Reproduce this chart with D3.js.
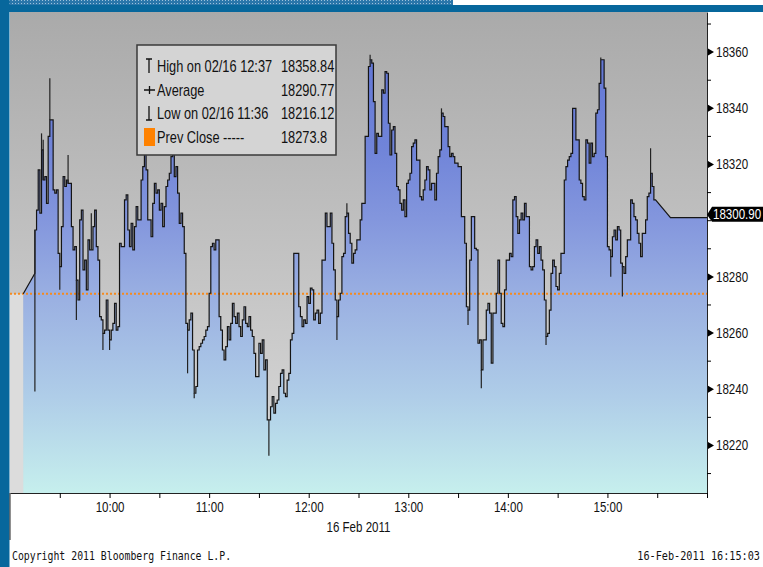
<!DOCTYPE html>
<html>
<head>
<meta charset="utf-8">
<script src="https://cdn.jsdelivr.net/npm/d3@7"></script>
<style>
  html, body { margin: 0; padding: 0; background: #fff; }
  svg { display: block; }
  svg text { font-family: "Liberation Sans", Arial, sans-serif; font-size: 15px; fill: #111; }
  svg text.mono { font-family: "DejaVu Sans Mono", "Liberation Mono", monospace; font-size: 12px; }
</style>
</head>
<body>
<div id="chart"></div>
<script>
// intraday chart, 16 Feb 2011

const W = 763, H = 567;
const plot = {left: 10, right: 707, top: 12, bottom: 493};

const prevClose = 18273.8;
const lastPrice = 18300.90;

// pre-open link, then one close per minute from startTime
const openTimes = ["09:08", "09:15"];
const openPrices = [18273.8, 18281.1];
const startTime = "09:15";
const closes = [
  18296.5, 18303.6, 18317.9, 18302.5, 18325.0, 18314.3, 18315.5, 18306.0, 18329.8, 18335.7, // 09:15
  18335.7, 18310.8, 18309.6, 18310.8, 18288.2, 18283.5, 18297.7, 18315.5, 18312.0, 18314.3, // 09:25
  18313.1, 18313.1, 18297.7, 18289.4, 18290.6, 18278.7, 18271.6, 18300.1, 18303.6, 18282.3, // 09:35
  18285.8, 18275.2, 18293.0, 18289.4, 18289.4, 18297.7, 18303.6, 18290.6, 18285.8, 18265.7, // 09:45
  18264.5, 18259.7, 18260.9, 18271.6, 18260.9, 18257.4, 18260.9, 18263.3, 18270.4, 18260.9, // 09:55
  18262.1, 18291.8, 18290.6, 18290.6, 18307.2, 18309.0, 18296.5, 18290.6, 18298.9, 18289.4, // 10:05
  18297.7, 18304.8, 18300.1, 18300.1, 18314.3, 18319.1, 18323.8, 18317.9, 18300.1, 18300.1, // 10:15
  18294.1, 18306.0, 18313.1, 18309.6, 18310.8, 18303.6, 18306.0, 18297.7, 18304.8, 18312.0, // 10:25
  18314.3, 18316.7, 18322.6, 18325.0, 18315.5, 18319.1, 18309.6, 18298.9, 18302.5, 18297.7, // 10:35
  18288.2, 18263.3, 18260.9, 18264.5, 18266.9, 18253.8, 18238.4, 18240.8, 18253.8, 18255.0, // 10:45
  18256.2, 18257.4, 18258.6, 18260.9, 18262.1, 18274.0, 18290.6, 18291.8, 18289.4, 18293.0, // 10:55
  18293.0, 18265.7, 18260.9, 18253.8, 18250.3, 18255.0, 18262.1, 18257.4, 18263.3, 18270.4, // 11:05
  18265.7, 18263.3, 18266.9, 18262.1, 18258.6, 18264.5, 18269.2, 18263.3, 18262.1, 18265.7, // 11:15
  18260.9, 18258.6, 18252.6, 18244.3, 18244.3, 18256.2, 18252.6, 18257.4, 18246.7, 18250.3, // 11:25
  18228.9, 18228.9, 18233.6, 18237.2, 18231.3, 18234.8, 18236.0, 18240.8, 18245.5, 18246.7, // 11:35
  18238.4, 18237.2, 18243.1, 18245.5, 18257.4, 18259.7, 18288.2, 18288.2, 18288.2, 18269.2, // 11:45
  18265.7, 18262.1, 18264.5, 18263.3, 18272.8, 18270.4, 18275.8, 18275.2, 18264.5, 18266.9, // 11:55
  18268.0, 18263.3, 18266.9, 18285.8, 18285.8, 18302.5, 18297.7, 18297.7, 18302.5, 18291.8, // 12:05
  18282.3, 18271.6, 18265.7, 18271.6, 18274.0, 18287.0, 18288.2, 18301.3, 18302.5, 18295.3, // 12:15
  18291.8, 18284.7, 18288.2, 18289.4, 18293.0, 18293.0, 18300.1, 18306.0, 18306.0, 18329.8, // 12:25
  18329.8, 18354.7, 18357.1, 18355.9, 18342.2, 18323.8, 18330.9, 18329.8, 18329.8, 18346.4, // 12:35
  18345.2, 18352.9, 18352.3, 18334.5, 18323.2, 18332.1, 18333.3, 18323.8, 18312.0, 18310.8, // 12:45
  18306.0, 18303.6, 18307.2, 18301.3, 18313.1, 18314.3, 18316.7, 18326.2, 18327.4, 18328.6, // 12:55
  18321.4, 18321.4, 18308.4, 18307.2, 18310.8, 18314.3, 18319.1, 18317.9, 18310.8, 18313.1, // 13:05
  18313.1, 18307.2, 18316.7, 18322.6, 18325.0, 18338.1, 18336.9, 18333.3, 18333.3, 18326.2, // 13:15
  18322.6, 18323.8, 18322.6, 18320.3, 18320.3, 18319.1, 18319.1, 18301.3, 18301.3, 18291.8, // 13:25
  18269.2, 18268.0, 18285.8, 18301.3, 18301.3, 18290.0, 18289.4, 18256.2, 18257.4, 18246.7, // 13:35
  18257.4, 18257.4, 18268.0, 18270.4, 18266.9, 18249.1, 18266.9, 18266.9, 18274.0, 18285.8, // 13:45
  18274.0, 18263.3, 18262.1, 18275.2, 18285.8, 18285.8, 18288.2, 18287.0, 18307.2, 18308.4, // 13:55
  18301.3, 18295.3, 18300.1, 18302.5, 18300.1, 18306.0, 18301.3, 18301.3, 18283.5, 18282.3, // 14:05
  18283.5, 18290.6, 18293.0, 18288.2, 18290.6, 18285.8, 18282.3, 18271.6, 18258.6, 18259.7, // 14:15
  18268.0, 18281.1, 18285.8, 18283.5, 18276.4, 18275.2, 18281.1, 18288.2, 18288.2, 18314.3, // 14:25
  18319.1, 18321.4, 18322.6, 18323.8, 18339.8, 18339.8, 18328.6, 18328.6, 18314.3, 18313.1, // 14:35
  18308.4, 18307.2, 18328.6, 18327.4, 18320.3, 18327.4, 18322.6, 18323.8, 18338.1, 18339.3, // 14:45
  18348.7, 18357.1, 18357.1, 18347.0, 18322.6, 18290.6, 18289.4, 18287.0, 18294.1, 18296.5, // 14:55
  18293.0, 18297.7, 18296.5, 18284.7, 18283.5, 18281.1, 18287.0, 18293.0, 18293.0, 18307.2, // 15:05
  18306.0, 18301.3, 18300.1, 18295.3, 18291.8, 18287.0, 18295.3, 18295.3, 18300.1, 18308.4, // 15:15
  18309.6, 18316.7, 18312.0, 18307.2                                                        // 15:25
];
// after the last bar: link to the last price, then held flat
const tailTimes = ["15:29", "15:38", "16:00"];
const tailPrices = [18307.2, 18300.9, 18300.9];

// single-minute highs / lows poking out of the close line
const spikeTimes = ["09:15", "09:19", "09:20", "09:24", "09:30", "09:35", "09:40", "09:49", "09:56", "10:00",
  "10:47", "10:51", "11:36", "12:17", "12:23", "12:37", "13:20", "13:36", "13:44", "14:23", "14:56", "15:02", "15:09", "15:26"];
const spikePrices = [18239.0, 18330.9, 18328.6, 18350.5, 18275.2, 18323.2, 18264.5, 18302.5, 18253.8, 18253.8,
  18245.5, 18236.6, 18216.12, 18257.4, 18306.0, 18358.84, 18339.8, 18262.7, 18240.2, 18255.6, 18357.9, 18279.9, 18272.8, 18325.6];

const yTicks = [18220, 18240, 18260, 18280, 18320, 18340, 18360];
const yMinor = [18210, 18230, 18250, 18270, 18290, 18300, 18310, 18330, 18350, 18370];
const xTicks = ["09:30", "10:00", "10:30", "11:00", "11:30", "12:00", "12:30", "13:00", "13:30", "14:00", "14:30", "15:00", "15:30", "16:00"];
const xLabels = ["10:00", "11:00", "12:00", "13:00", "14:00", "15:00"];

const legendLabels = ["High on 02/16 12:37", "Average", "Low on 02/16 11:36", "Prev Close -----"];
const legendValues = ["18358.84", "18290.77", "18216.12", "18273.8"];

const dateLabel = "16 Feb 2011";
const copyright = "Copyright 2011 Bloomberg Finance L.P.";
const stamp = "16-Feb-2011 16:15:03";

// ---------------------------------------------------------------
const parse = s => { let p = s.split(":").map(Number); return new Date(2011, 1, 16, p[0], p[1]); };

// no narrow font installed: squeeze the text horizontally
function narrow(sel, k) {
  sel.each(function () {
    let t = d3.select(this);
    let x0 = +t.attr("x") || 0;
    t.attr("x", x0 / k).attr("transform", "scale(" + k + ",1)");
  });
}

const x = d3.scaleTime().domain([parse("09:00"), parse("16:00")]).range([plot.left, plot.right]);
const y = d3.scaleLinear().domain([18202.9, 18374.1]).range([plot.bottom, plot.top]);

const svg = d3.select("#chart").append("svg").attr("width", W).attr("height", H);
const defs = svg.append("defs");

let bg = defs.append("linearGradient").attr("id", "bgGrad").attr("gradientUnits", "userSpaceOnUse")
  .attr("x1", 0).attr("x2", 0).attr("y1", plot.top).attr("y2", plot.bottom);
bg.append("stop").attr("offset", 0).attr("stop-color", "#aaaaaa");
bg.append("stop").attr("offset", 1).attr("stop-color", "#dadada");

let ag = defs.append("linearGradient").attr("id", "areaGrad").attr("gradientUnits", "userSpaceOnUse")
  .attr("x1", 0).attr("x2", 0).attr("y1", plot.top).attr("y2", plot.bottom);
[[0, "#5c70d4"], [0.29, "#7185d9"], [0.43, "#8396dd"], [0.6, "#9bb1e2"], [0.8, "#afcde8"], [1, "#c6efed"]]
  .forEach(s => ag.append("stop").attr("offset", s[0]).attr("stop-color", s[1]));

let pat = defs.append("pattern").attr("id", "topPat").attr("width", 3).attr("height", 3).attr("patternUnits", "userSpaceOnUse");
pat.append("rect").attr("width", 3).attr("height", 3).attr("fill", "#2a76aa");
pat.append("rect").attr("width", 1).attr("height", 1).attr("fill", "#9cc2dc");

defs.append("clipPath").attr("id", "plotClip").append("rect")
  .attr("x", plot.left).attr("y", plot.top).attr("width", plot.right - plot.left).attr("height", plot.bottom - plot.top);

// frame
svg.append("rect").attr("x", 0).attr("y", 0).attr("width", 453).attr("height", 5).attr("fill", "url(#topPat)");
svg.append("rect").attr("x", 0).attr("y", 5).attr("width", W).attr("height", 7).attr("fill", "#07679c");
svg.append("rect").attr("x", 0).attr("y", 0).attr("width", 9.5).attr("height", H).attr("fill", "#07679c");

svg.append("rect").attr("x", plot.left).attr("y", plot.top)
  .attr("width", plot.right - plot.left).attr("height", plot.bottom - plot.top).attr("fill", "url(#bgGrad)");

// pre-open strip
svg.append("rect").attr("x", x(parse("09:00"))).attr("y", y(prevClose))
  .attr("width", x(parse(openTimes[0])) - x(parse("09:00"))).attr("height", plot.bottom - y(prevClose))
  .attr("fill", "#dcdcdc");

// build the path points: linear link, minute steps, linear tail
let pts = openTimes.map((t, i) => [parse(t), openPrices[i]]);
let t0 = parse(startTime);
closes.forEach((v, i) => {
  pts.push([d3.timeMinute.offset(t0, i), v]);
  pts.push([d3.timeMinute.offset(t0, i + 1), v]);
});
tailTimes.forEach((t, i) => pts.push([parse(t), tailPrices[i]]));

const plotG = svg.append("g").attr("clip-path", "url(#plotClip)");

plotG.append("path").datum(pts).attr("fill", "url(#areaGrad)")
  .attr("d", d3.area().x(d => x(d[0])).y0(plot.bottom).y1(d => y(d[1])));

plotG.append("line").attr("x1", plot.left).attr("x2", plot.right)
  .attr("y1", y(prevClose)).attr("y2", y(prevClose))
  .attr("stroke", "#f58a1f").attr("stroke-width", 2).attr("stroke-dasharray", "2,2");

plotG.append("path").datum(pts).attr("fill", "none").attr("stroke", "#151515").attr("stroke-width", 1.2)
  .attr("d", d3.line().x(d => x(d[0])).y(d => y(d[1])));

// spikes drawn from that minute's close
plotG.selectAll(".spike").data(spikeTimes).enter().append("line").attr("class", "spike")
  .attr("x1", d => x(parse(d))).attr("x2", d => x(parse(d)))
  .attr("y1", d => y(closes[d3.timeMinute.count(t0, parse(d))]))
  .attr("y2", (d, i) => y(spikePrices[i]))
  .attr("stroke", "#222").attr("stroke-width", 1.2);

// right axis
let gMinor = svg.append("g").attr("transform", "translate(" + plot.right + ",0)")
  .call(d3.axisRight(y).tickValues(yMinor).tickSize(4).tickSizeOuter(0).tickFormat(""));
gMinor.select(".domain").attr("stroke", "#222");

let gMajor = svg.append("g").attr("transform", "translate(" + plot.right + ",0)")
  .call(d3.axisRight(y).tickValues(yTicks).tickSize(0).tickPadding(9).tickFormat(d3.format("d")));
gMajor.select(".domain").remove();
gMajor.selectAll(".tick").append("path").attr("d", "M1,-3.5L7,0L1,3.5Z").attr("fill", "#000");
narrow(gMajor.selectAll("text"), 0.77);

// last price tag
let ly = y(lastPrice);
let tag = svg.append("g");
tag.append("path").attr("fill", "#000")
  .attr("d", "M" + plot.right + "," + (ly - 3) + "L" + (plot.right + 5) + "," + (ly - 11) + "H" + W + "V" + (ly + 4) + "H" + (plot.right + 5) + "Z");
tag.append("text").attr("x", plot.right + 6).attr("y", ly + 1.5).style("fill", "#fff")
  .text(d3.format(".2f")(lastPrice));
narrow(tag.selectAll("text"), 0.77);

// bottom axis
svg.append("g").attr("transform", "translate(0," + plot.bottom + ")")
  .call(d3.axisBottom(x).tickValues(xTicks.map(parse)).tickSize(5).tickSizeOuter(0).tickFormat(""))
  .select(".domain").attr("stroke", "#222");
let gxl = svg.append("g").attr("transform", "translate(0," + plot.bottom + ")")
  .call(d3.axisBottom(x).tickValues(xLabels.map(parse)).tickSize(0).tickPadding(8).tickFormat(d3.timeFormat("%H:%M")));
gxl.select(".domain").remove();
narrow(gxl.selectAll("text"), 0.77);

svg.append("line").attr("x1", plot.left).attr("x2", plot.left).attr("y1", plot.bottom).attr("y2", 540).attr("stroke", "#222");

narrow(svg.append("text").attr("x", (plot.left + plot.right) / 2).attr("y", 532).attr("text-anchor", "middle").text(dateLabel), 0.77);

// footer, monospace squeezed
narrow(svg.append("text").attr("class", "mono").attr("x", 12).attr("y", 560).text(copyright), 0.82);
narrow(svg.append("text").attr("class", "mono").attr("x", 760).attr("y", 560).attr("text-anchor", "end").text(stamp), 0.85);

// legend box
let lg = svg.append("g").attr("transform", "translate(137,45)");
lg.append("rect").attr("width", 199).attr("height", 110).attr("fill", "#d4d4d4").attr("stroke", "#3a3a3a").attr("stroke-width", 1.5);
let rowY = [21, 45, 68, 92];
let rows = lg.selectAll(".row").data(legendLabels).enter().append("g").attr("class", "row")
  .attr("transform", (d, i) => "translate(0," + rowY[i] + ")");
rows.append("text").attr("x", 20).attr("y", 6).style("font-size", "16px").text(d => d);
rows.append("text").attr("x", 144).attr("y", 6).style("font-size", "16px").text((d, i) => legendValues[i]);
narrow(rows.selectAll("text"), 0.8);
let sym = ["M9,-7H15M12,-7V7", "M7,0H18M12.5,-4V4", "M12,-7V7M9,7H15", null];
rows.filter((d, i) => sym[i]).append("path").attr("d", (d, i) => sym[i]).attr("stroke", "#111").attr("stroke-width", 1.3).attr("fill", "none");
rows.filter((d, i) => i === 3).append("rect").attr("x", 7).attr("y", -9).attr("width", 11).attr("height", 18).attr("fill", "#ff8200");
</script>
</body>
</html>
